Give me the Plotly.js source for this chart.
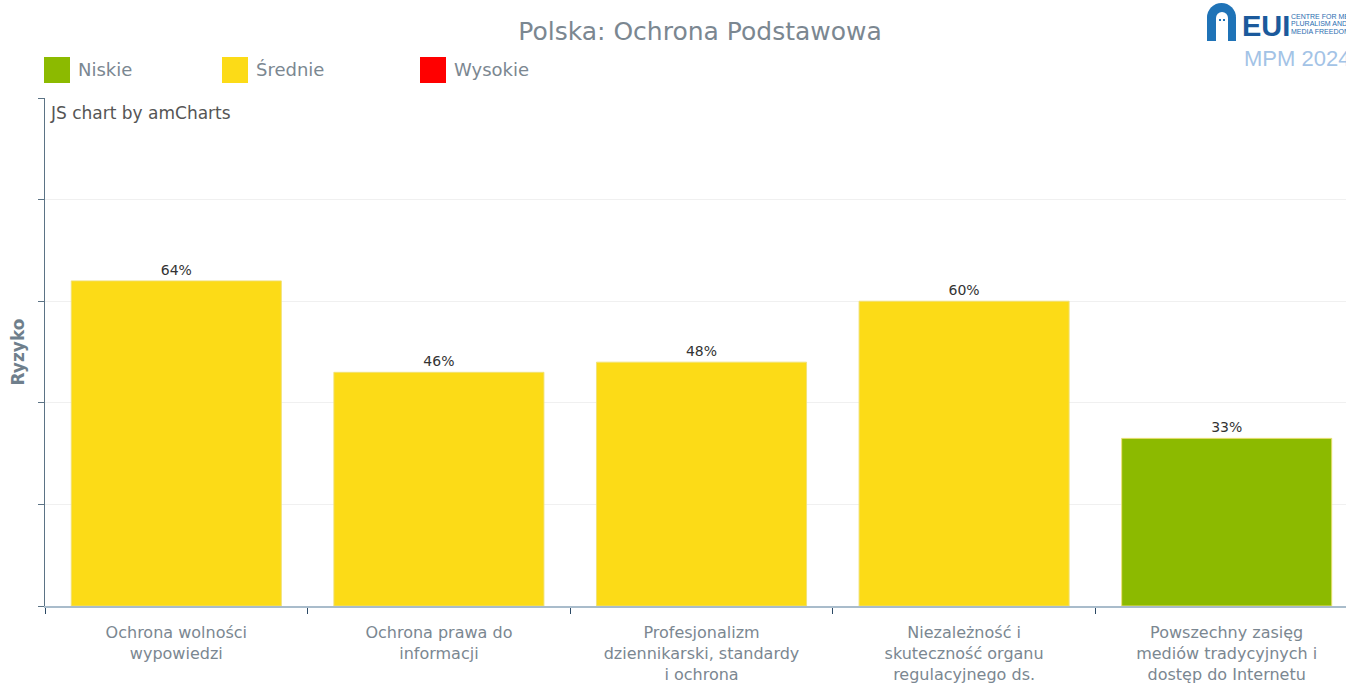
<!DOCTYPE html>
<html>
<head>
<meta charset="utf-8">
<script src="https://cdn.plot.ly/plotly-3.0.1.min.js"></script>
<style>
html,body{margin:0;padding:0;overflow:hidden;background:#fff;}
#chart{width:1358px;height:688px;}
</style>
</head>
<body>
<div id="chart"></div>
<script>
// ---- data ----
const categories = [
  "Ochrona wolności<br>wypowiedzi",
  "Ochrona prawa do<br>informacji",
  "Profesjonalizm<br>dziennikarski, standardy<br>i ochrona",
  "Niezależność i<br>skuteczność organu<br>regulacyjnego ds.<br>mediów",
  "Powszechny zasięg<br>mediów tradycyjnych i<br>dostęp do Internetu"
];
const riskValues = [64, 46, 48, 60, 33];
const riskLevels = ["Średnie", "Średnie", "Średnie", "Średnie", "Niskie"];
const legendLabels = ["Niskie", "Średnie", "Wysokie"];
const legendColors = ["#8cba00", "#fcdb17", "#ff0000"];
const chartTitle = "Polska: Ochrona Podstawowa";
const yTitle = "Ryzyko";

// ---- layout helpers (pixel -> paper) ----
const W = 1358, H = 688, ML = 45, MR = 0, MT = 98, MB = 82;
const PW = W - ML - MR, PH = H - MT - MB;
const px = x => (x - ML) / PW;
const py = y => (H - MB - y) / PH;

const colorOf = lvl => legendColors[legendLabels.indexOf(lvl)];
const barColors = riskLevels.map(colorOf);

const FONT = "DejaVu Sans, Verdana, sans-serif";
const GRAY = "#7b8791";

const trace = {
  type: "bar",
  x: categories,
  y: riskValues,
  marker: { color: barColors, line: { color: "rgba(240,225,120,0.9)", width: 1 } },
  texttemplate: "%{y}%",
  textposition: "outside",
  textfont: { family: FONT, size: 14, color: "#333333" },
  cliponaxis: false,
  hoverinfo: "skip"
};

const shapes = [];
const annotations = [];

// legend
const legendX = [44, 222, 420];
legendLabels.forEach((lab, i) => {
  shapes.push({ type: "rect", xref: "paper", yref: "paper",
    x0: px(legendX[i]), x1: px(legendX[i] + 26), y0: py(83), y1: py(57),
    fillcolor: legendColors[i], line: { width: 0 } });
  annotations.push({ xref: "paper", yref: "paper", x: px(legendX[i] + 32), y: py(69),
    xanchor: "left", yanchor: "middle", showarrow: false, text: lab,
    font: { family: FONT, size: 18, color: GRAY } });
});

// watermark text
annotations.push({ xref: "paper", yref: "paper", x: px(48), y: py(113),
  xanchor: "left", yanchor: "middle", showarrow: false, text: "JS chart by amCharts",
  font: { family: FONT, size: 17, color: "#555555" } });

// logo
const BLUE = "#1f73b7";
shapes.push({ type: "circle", xref: "paper", yref: "paper", x0: px(1207), x1: px(1236), y0: py(32), y1: py(3), fillcolor: BLUE, line: { width: 0 } });
shapes.push({ type: "rect", xref: "paper", yref: "paper", x0: px(1207), x1: px(1236), y0: py(41), y1: py(17.5), fillcolor: BLUE, line: { width: 0 } });
shapes.push({ type: "circle", xref: "paper", yref: "paper", x0: px(1216), x1: px(1228), y0: py(24), y1: py(12), fillcolor: "#ffffff", line: { width: 0 } });
shapes.push({ type: "rect", xref: "paper", yref: "paper", x0: px(1216), x1: px(1228), y0: py(41), y1: py(18), fillcolor: "#ffffff", line: { width: 0 } });
shapes.push({ type: "rect", xref: "paper", yref: "paper", x0: px(1219), x1: px(1221), y0: py(21), y1: py(19), fillcolor: BLUE, line: { width: 0 } });
shapes.push({ type: "rect", xref: "paper", yref: "paper", x0: px(1223), x1: px(1225), y0: py(21), y1: py(19), fillcolor: BLUE, line: { width: 0 } });
annotations.push({ xref: "paper", yref: "paper", x: px(1240), y: py(26), xanchor: "left", yanchor: "middle", showarrow: false,
  text: "<b>EUI</b>", font: { family: "Liberation Sans, sans-serif", size: 29, color: "#1b5a9c" } });
["CENTRE FOR MEDIA", "PLURALISM AND", "MEDIA FREEDOM"].forEach((t, i) => {
  annotations.push({ xref: "paper", yref: "paper", x: px(1289), y: py(16 + i * 7.5), xanchor: "left", yanchor: "middle", showarrow: false,
    text: t, font: { family: "Liberation Sans, sans-serif", size: 7, color: "#2a6db0" } });
});
annotations.push({ xref: "paper", yref: "paper", x: px(1242), y: py(59), xanchor: "left", yanchor: "middle", showarrow: false,
  text: "MPM 2024", font: { family: "Liberation Sans, sans-serif", size: 22, color: "#a3c3e6" } });

const layout = {
  width: W, height: H,
  margin: { l: ML, r: MR, t: MT, b: MB, pad: 0 },
  paper_bgcolor: "#ffffff", plot_bgcolor: "#ffffff",
  showlegend: false,
  bargap: 0.2,
  title: { text: chartTitle, x: px(700), xanchor: "center", xref: "paper", y: 1 - 31 / H, yanchor: "middle",
    font: { family: FONT, size: 25, color: GRAY } },
  xaxis: {
    type: "category", range: [-0.5, 4.5], fixedrange: true,
    showline: true, linecolor: "#a9bccb", linewidth: 2,
    ticks: "outside", tickson: "boundaries", ticklen: 6, tickcolor: "#2c4a66", tickwidth: 1,
    ticklabelstandoff: 11,
    showgrid: false, automargin: false,
    tickfont: { family: FONT, size: 16, color: GRAY }
  },
  yaxis: {
    range: [0, 100], dtick: 20, tick0: 0, fixedrange: true,
    showticklabels: false, ticks: "outside", ticklen: 6, tickcolor: "#5b7385", tickwidth: 1,
    showline: true, linecolor: "#5b7385", linewidth: 1,
    showgrid: true, gridcolor: "#f0f0f0", gridwidth: 1, zeroline: false, automargin: false,
    title: { text: "<b>" + yTitle + "</b>", standoff: 9, font: { family: FONT, size: 17, color: "#6f7f8c" } }
  },
  shapes: shapes,
  annotations: annotations,
  font: { family: FONT }
};

Plotly.newPlot("chart", [trace], layout, { displayModeBar: false, staticPlot: true });
</script>
</body>
</html>
